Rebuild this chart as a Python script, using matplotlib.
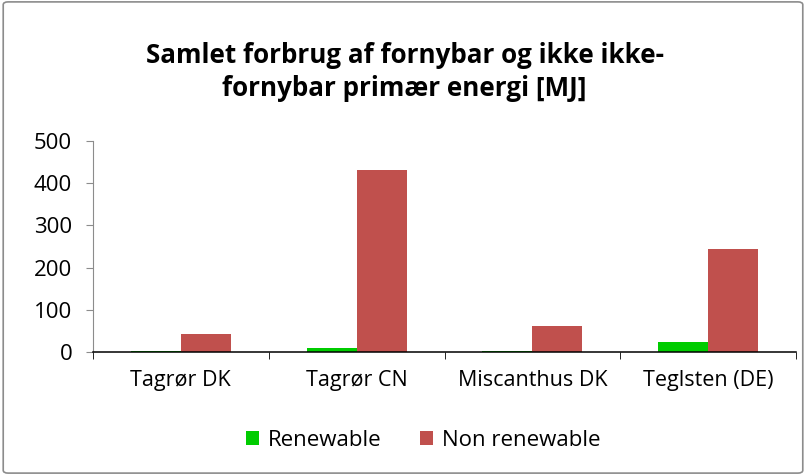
import numpy as np
import matplotlib.pyplot as plt
from matplotlib.patches import FancyBboxPatch

categories = ["Tagrør DK", "Tagrør CN", "Miscanthus DK", "Teglsten (DE)"]
renewable = [3, 9, 3, 24]
non_renewable = [43, 431, 62, 244]
yticks = [0, 100, 200, 300, 400, 500]

plt.rcParams["font.family"] = ["Open Sans", "DejaVu Sans"]

fig = plt.figure(figsize=(8.06, 4.75), dpi=100)
ax = fig.add_axes([93 / 806, 1 - 352 / 475, (796 - 93) / 806, (352 - 141) / 475])

# outer chart border
fig.patches.append(FancyBboxPatch((0.004, 0.004), 0.992, 0.992,
                                  boxstyle="round,pad=0,rounding_size=0.006",
                                  transform=fig.transFigure, fill=False,
                                  edgecolor="#8c8c8c", linewidth=1.2))

x = np.arange(len(categories))
w = 0.285
ax.bar(x - w / 2, renewable, w, color="#00cc00", label="Renewable")
ax.bar(x + w / 2, non_renewable, w, color="#c0504d", label="Non renewable")

ax.set_xlim(-0.5, len(categories) - 0.5)
ax.set_ylim(0, 500)
ax.set_yticks(yticks)
ax.set_xticks(x)
ax.set_xticklabels(categories)
ax.set_xticks(np.arange(len(categories) + 1) - 0.5, minor=True)
ax.tick_params(axis="x", which="major", length=0, labelsize=15.5, pad=13)
ax.tick_params(axis="x", which="minor", length=5, color="black")
ax.tick_params(axis="y", labelsize=16, length=5, color="#8c8c8c", pad=10)

for s in ["top", "right"]:
    ax.spines[s].set_visible(False)
ax.spines["left"].set_color("#8c8c8c")
ax.spines["bottom"].set_color("black")
ax.spines["bottom"].set_linewidth(1.1)

fig.text(0.502, 0.848, "Samlet forbrug af fornybar og ikke ikke-\nfornybar primær energi [MJ]",
         ha="center", va="center", fontsize=18.7, fontweight="bold", linespacing=1.3)

fig.legend(loc="center", bbox_to_anchor=(0.525, 0.073), ncol=2, frameon=False,
           fontsize=16, handlelength=0.6, handleheight=0.6, columnspacing=1.7,
           handletextpad=0.4)

fig.savefig("out.png", dpi=100)
